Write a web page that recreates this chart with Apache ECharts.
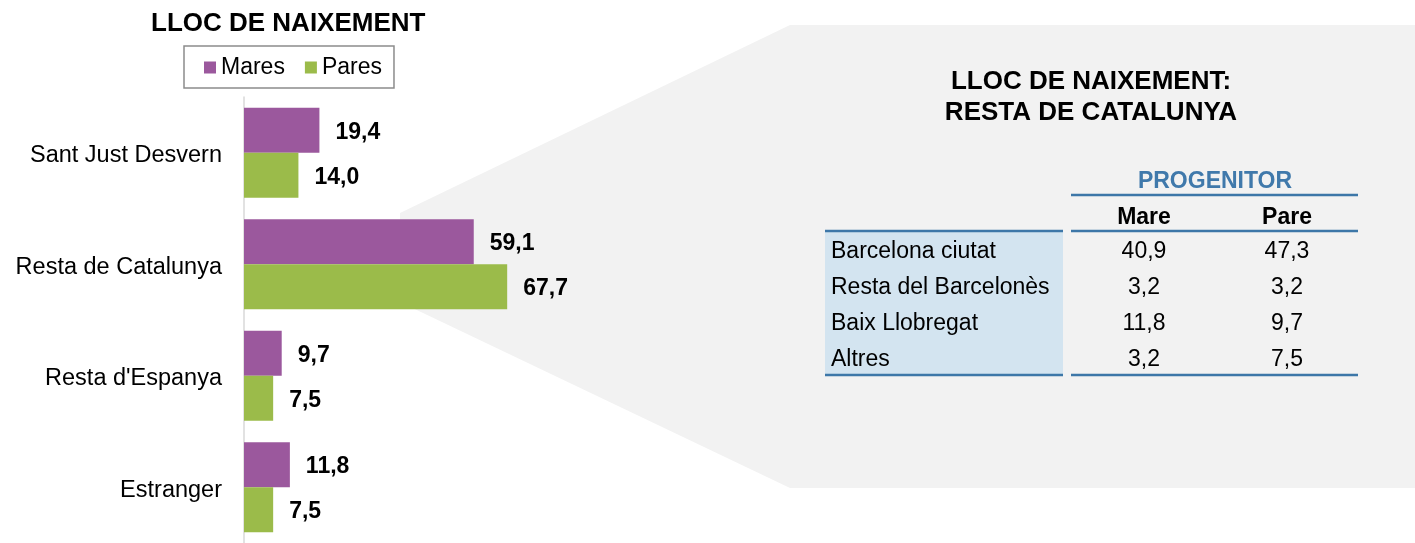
<!DOCTYPE html>
<html>
<head>
<meta charset="utf-8">
<title>Lloc de naixement</title>
<script src="https://cdn.jsdelivr.net/npm/echarts@6/dist/echarts.min.js"></script>
<style>
  html, body { margin: 0; padding: 0; background: #fff; }
  #chart { width: 1415px; height: 543px; }
</style>
</head>
<body>
<div id="chart"></div>
<script>
// dades del gràfic de barres
const categories = ['Sant Just Desvern', 'Resta de Catalunya', "Resta d'Espanya", 'Estranger'];
const mares = [19.4, 59.1, 9.7, 11.8];
const pares = [14.0, 67.7, 7.5, 7.5];

// dades de la taula: resta de Catalunya
const tableRows = ['Barcelona ciutat', 'Resta del Barcelonès', 'Baix Llobregat', 'Altres'];
const tableMare = [40.9, 3.2, 11.8, 3.2];
const tablePare = [47.3, 3.2, 9.7, 7.5];

const FONT = '"Liberation Sans", Arial, sans-serif';
const fmt = v => v.toFixed(1).replace('.', ',');

const chart = echarts.init(document.getElementById('chart'));

// fons gris (embut + panell)
const graphics = [
  {
    type: 'polygon',
    z: 0,
    shape: { points: [[400, 213], [790, 25], [1415, 25], [1415, 488], [790, 488], [400, 302]] },
    style: { fill: '#f2f2f2' }
  },
  // títol del panell
  {
    type: 'text', z: 10, x: 1091, y: 82,
    style: { text: 'LLOC DE NAIXEMENT:', font: 'bold 26px ' + FONT, fill: '#000', textAlign: 'center', textVerticalAlign: 'middle' }
  },
  {
    type: 'text', z: 10, x: 1091, y: 113,
    style: { text: 'RESTA DE CATALUNYA', font: 'bold 26px ' + FONT, fill: '#000', textAlign: 'center', textVerticalAlign: 'middle' }
  },
  // fons de la primera columna
  {
    type: 'rect', z: 10,
    shape: { x: 825, y: 231, width: 238, height: 144 },
    style: { fill: '#d3e4f0' }
  },
  {
    type: 'text', z: 10, x: 1215, y: 181.5,
    style: { text: 'PROGENITOR', font: 'bold 23px ' + FONT, fill: '#4079ab', textAlign: 'center', textVerticalAlign: 'middle' }
  },
  {
    type: 'text', z: 10, x: 1144, y: 218,
    style: { text: 'Mare', font: 'bold 23px ' + FONT, fill: '#000', textAlign: 'center', textVerticalAlign: 'middle' }
  },
  {
    type: 'text', z: 10, x: 1287, y: 218,
    style: { text: 'Pare', font: 'bold 23px ' + FONT, fill: '#000', textAlign: 'center', textVerticalAlign: 'middle' }
  }
];

// línies de la taula
const lineStyle = { stroke: '#3d77a8', lineWidth: 2.5 };
[[1071, 195, 1358], [825, 231, 1063], [1071, 231, 1358], [825, 375, 1063], [1071, 375, 1358]].forEach(l => {
  graphics.push({ type: 'line', z: 11, shape: { x1: l[0], y1: l[1], x2: l[2], y2: l[1] }, style: lineStyle });
});

// files de la taula
tableRows.forEach((name, i) => {
  const y = 251.5 + i * 36;
  graphics.push({
    type: 'text', z: 12, x: 831, y: y,
    style: { text: name, font: '23px ' + FONT, fill: '#000', textAlign: 'left', textVerticalAlign: 'middle' }
  });
  graphics.push({
    type: 'text', z: 12, x: 1144, y: y,
    style: { text: fmt(tableMare[i]), font: '23px ' + FONT, fill: '#000', textAlign: 'center', textVerticalAlign: 'middle' }
  });
  graphics.push({
    type: 'text', z: 12, x: 1287, y: y,
    style: { text: fmt(tablePare[i]), font: '23px ' + FONT, fill: '#000', textAlign: 'center', textVerticalAlign: 'middle' }
  });
});

const labelStyle = {
  show: true,
  position: 'right',
  distance: 16,
  offset: [0, 2],
  color: '#000',
  fontSize: 23,
  fontWeight: 'bold',
  fontFamily: FONT,
  formatter: p => fmt(p.value)
};

const options = {
  animation: false,
  textStyle: { fontFamily: FONT },
  title: {
    text: 'LLOC DE NAIXEMENT',
    left: 151,
    top: 11,
    padding: 0,
    textStyle: { color: '#000', fontSize: 26, fontWeight: 'bold', fontFamily: FONT }
  },
  legend: {
    left: 184,
    top: 46,
    icon: 'rect',
    itemWidth: 12,
    itemHeight: 12,
    itemGap: 20,
    padding: [10, 12, 9, 20],
    borderColor: '#8c8c8c',
    borderWidth: 1.5,
    backgroundColor: '#fff',
    textStyle: { color: '#000', fontSize: 23, fontFamily: FONT },
    data: ['Mares', 'Pares']
  },
  graphic: graphics,
  grid: {
    left: 244,
    top: 97,
    width: 311,
    height: 452,
    containLabel: false
  },
  xAxis: {
    type: 'value',
    min: 0,
    max: 80,
    show: false,
    splitLine: { show: false }
  },
  yAxis: {
    type: 'category',
    inverse: true,
    data: categories,
    axisLine: { show: true, lineStyle: { color: '#d9d9d9', width: 1.5 } },
    axisTick: { show: false },
    axisLabel: {
      margin: 22,
      formatter: v => '{a|' + v + '}',
      rich: {
        a: { color: '#000', fontSize: 23.5, fontFamily: FONT, padding: [6, 0, 0, 0] }
      }
    }
  },
  series: [
    {
      name: 'Mares',
      type: 'bar',
      barWidth: 45,
      barGap: '0%',
      itemStyle: { color: '#9b589d' },
      label: labelStyle,
      data: mares
    },
    {
      name: 'Pares',
      type: 'bar',
      barWidth: 45,
      barGap: '0%',
      itemStyle: { color: '#9bbb4a' },
      label: labelStyle,
      data: pares
    }
  ]
};

chart.setOption(options);
</script>
</body>
</html>
